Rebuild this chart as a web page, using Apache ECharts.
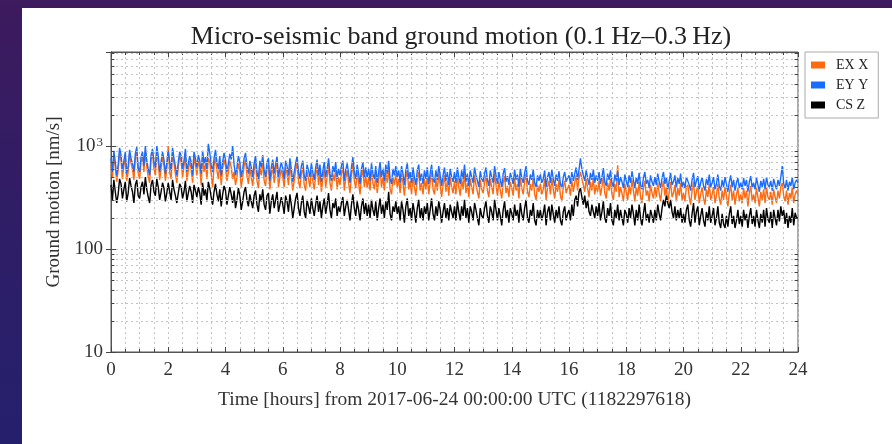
<!DOCTYPE html>
<html><head><meta charset="utf-8">
<script src="https://cdn.jsdelivr.net/npm/echarts@6/dist/echarts.min.js"></script>
<style>
html,body{margin:0;padding:0;width:892px;height:444px;overflow:hidden;
background:linear-gradient(180deg,#3e1a5e 0%,#301d66 45%,#25206c 100%);}
#c{width:892px;height:444px;}
</style></head><body><div id="c"></div>
<script>
// sampling step: 0.05 h (3 min); one row = one hour
const titleText = 'Micro-seismic band ground motion (0.1\u2009Hz\u20130.3\u2009Hz)';
const xName = 'Time [hours] from 2017-06-24 00:00:00 UTC (1182297618)';
const yName = 'Ground motion [nm/s]';
const seriesNames = ['EX X', 'EY Y', 'CS Z'];
const yMinorGrid = [20,30,40,50,60,70,80,90,200,300,400,500,600,700,800,900,2000,3000,4000,5000,6000,7000,8000];

const exX = [
660,500,800,620,450,580,860,720,480,640,780,460,560,840,680,600,470,760,880,540,
480,700,800,560,900,640,500,440,740,860,600,520,880,700,470,600,800,640,460,600,
1000,560,480,860,680,540,440,620,800,700,500,640,860,460,580,720,600,440,780,660,
520,720,620,420,800,560,680,480,760,700,540,400,640,780,580,480,700,420,600,740,
640,460,560,720,620,480,560,420,500,680,580,400,500,640,740,520,430,620,500,410,
580,700,460,390,620,520,720,460,410,600,660,380,520,640,440,560,700,400,500,600,
500,400,620,540,420,660,500,370,460,580,700,460,390,540,620,420,370,560,480,400,
580,460,380,520,640,420,560,360,480,600,400,500,660,440,370,540,460,600,380,500,
420,540,620,370,480,580,440,350,520,680,460,390,560,440,340,500,600,400,520,390,
500,370,580,440,380,540,350,460,600,400,500,370,560,440,620,380,340,500,420,540,
400,480,350,540,440,330,480,580,380,460,340,520,400,330,480,560,370,440,340,480,
380,520,340,440,560,380,340,480,370,540,420,320,420,520,360,460,330,500,400,350,
460,340,520,400,330,480,380,560,350,440,320,480,400,340,520,420,360,310,470,380,
350,440,520,370,320,480,400,340,540,420,330,460,370,310,440,510,350,410,320,450,
390,330,490,370,430,310,500,390,340,450,540,360,320,430,370,490,340,300,420,360,
430,340,380,480,300,400,460,340,490,380,310,430,360,470,330,290,400,460,350,390,
420,330,460,360,440,520,370,490,560,480,420,360,480,390,320,450,370,490,340,420,
360,460,330,400,510,350,310,440,370,480,340,300,430,360,650,320,400,350,290,430,
360,300,420,340,470,370,290,400,330,450,320,280,390,460,330,370,290,420,350,310,
400,320,440,350,290,390,460,330,400,280,360,450,320,350,420,290,390,330,440,300,
350,290,400,420,320,270,370,450,300,360,410,280,340,400,310,270,380,320,430,300,
340,400,280,330,430,310,270,370,300,400,330,260,350,420,300,370,270,340,390,290,
340,280,390,310,370,260,350,410,290,340,280,390,320,260,360,300,380,280,400,320,
300,360,270,380,320,280,370,310,400,440,330,290,370,270,350,310,400,280,340,370,
340];

const eyY = [
760,560,900,700,520,650,960,820,580,720,880,540,640,920,760,680,560,840,980,620,
560,780,880,640,1000,720,600,520,820,940,700,620,1000,800,560,700,880,740,540,680,
900,700,580,960,760,640,520,700,880,800,600,720,940,560,680,800,700,520,880,760,
620,820,720,540,900,680,780,600,1050,860,660,560,760,920,700,600,800,520,700,860,
740,560,680,840,740,1000,660,520,620,800,700,500,600,760,860,640,540,720,620,500,
680,800,560,480,720,620,820,580,500,700,760,460,620,740,540,660,800,500,600,700,
600,480,720,640,520,760,600,450,560,680,800,560,480,640,720,520,460,660,580,500,
680,560,470,620,740,520,660,450,580,700,500,600,760,540,460,640,560,700,480,600,
520,640,720,460,580,680,540,440,620,780,560,480,660,540,430,600,700,500,620,490,
600,460,680,540,480,640,440,560,700,500,600,460,660,540,720,480,430,600,520,640,
500,580,440,640,540,420,580,680,480,560,440,620,500,420,580,660,460,540,430,580,
480,620,430,540,660,480,440,580,470,640,520,410,520,620,460,560,420,600,500,450,
560,440,620,500,430,580,480,660,450,540,410,580,500,440,620,520,460,400,570,480,
450,540,620,470,410,580,500,440,640,520,430,560,470,400,540,610,450,510,420,550,
490,430,590,470,530,400,600,490,440,550,640,460,420,530,470,590,440,400,520,460,
530,440,480,580,400,500,560,440,590,480,410,530,460,570,430,390,500,560,450,490,
520,430,560,460,540,620,470,590,760,600,520,460,580,490,420,550,470,590,440,520,
460,560,430,500,610,450,410,540,470,580,440,400,530,460,570,420,500,450,390,530,
460,400,520,440,570,470,390,500,430,550,420,380,490,560,430,470,390,520,450,410,
500,420,540,450,390,490,560,430,500,380,460,550,420,450,520,390,490,430,540,400,
450,390,500,520,420,370,470,550,400,460,510,380,440,500,410,370,480,420,530,400,
440,500,380,430,530,410,370,470,400,500,430,360,450,520,400,470,370,440,490,390,
440,380,490,410,470,360,450,510,390,440,380,490,420,360,460,400,480,380,500,420,
400,460,370,480,420,380,470,410,500,640,430,390,470,370,450,410,500,380,440,470,
440];

const csZ = [
420,300,470,360,280,340,480,430,310,380,450,290,350,490,410,360,280,420,470,330,
310,400,450,340,500,380,320,280,420,470,360,330,480,400,300,360,440,390,290,350,
440,360,300,470,380,330,280,350,430,400,310,360,460,290,350,410,360,280,420,370,
320,400,350,270,440,330,380,290,450,390,320,270,360,430,340,290,380,260,340,410,
370,270,330,400,340,280,370,250,300,390,330,240,290,360,400,300,260,340,290,250,
330,370,270,230,340,290,380,270,240,330,350,220,290,340,250,300,360,230,270,320,
270,220,330,290,230,340,270,200,250,310,350,250,210,280,330,230,200,300,260,220,
310,250,210,270,330,230,290,200,260,310,220,270,350,240,200,280,250,310,210,260,
230,280,320,210,260,300,240,190,270,340,250,210,290,240,190,260,310,220,280,210,
270,200,300,240,210,290,190,250,310,220,270,200,290,240,360,220,190,260,230,290,
220,260,190,290,240,180,260,310,210,250,190,280,230,180,250,300,200,250,190,260,
220,280,190,240,310,220,190,260,210,290,240,180,230,280,200,250,190,270,230,200,
260,190,290,230,190,260,210,300,200,250,180,260,230,190,280,240,200,170,250,210,
200,250,290,210,180,260,230,190,300,240,190,250,210,170,240,290,200,240,180,250,
220,190,270,210,240,180,280,220,190,250,300,200,180,240,210,280,190,170,240,200,
240,190,220,270,170,230,260,190,270,220,180,240,200,260,190,170,230,260,190,220,
240,190,270,210,300,330,260,360,390,320,270,330,250,300,230,210,270,230,200,260,
210,280,190,230,290,200,180,250,210,280,190,170,240,200,270,190,240,200,170,240,
220,180,250,200,270,220,170,240,190,270,200,170,220,280,190,220,180,240,210,180,
240,190,270,220,190,250,300,260,330,280,250,300,230,200,260,190,240,200,250,180,
220,180,240,270,190,165,220,280,180,230,260,170,210,250,190,165,230,190,260,180,
210,250,170,200,260,180,160,220,175,160,210,165,220,260,175,210,160,190,240,175,
210,165,240,190,220,160,210,250,175,210,165,240,190,160,220,180,240,165,250,195,
180,230,160,240,200,170,240,185,260,210,240,175,225,160,210,180,250,170,225,200,
200];

const STEP_H = 0.05;
const X_MIN = 0, X_MAX = 24, MINOR_TICK_H = 0.12;
const toPairs = arr => arr.map((v, i) => [i * STEP_H, v]);
const FONT = '"Liberation Serif", "DejaVu Serif", serif';
const gridLine = {show: true, lineStyle: {color: '#c4c4c4', type: [2, 3], width: 1}};
const Y_MIN = 10, Y_MAX = 8200;

// short minor-tick segments on the left and right frame at the log minor values
const minorTickLines = [];
yMinorGrid.forEach(v => {
  minorTickLines.push([{coord: [X_MIN, v]}, {coord: [X_MIN + MINOR_TICK_H, v]}]);
  minorTickLines.push([{coord: [X_MAX - MINOR_TICK_H, v]}, {coord: [X_MAX, v]}]);
});

const chart = echarts.init(document.getElementById('c'), null, {renderer: 'canvas'});
chart.setOption({
  animation: false,
  backgroundColor: 'transparent',
  graphic: [{type: 'rect', z: -10, shape: {x: 22, y: 8, width: 870, height: 436}, style: {fill: '#ffffff'}}],
  title: {text: titleText, left: 456, textAlign: 'center', top: 19,
    textStyle: {fontFamily: FONT, fontSize: 26, fontWeight: 'normal', color: '#222'}},
  legend: {
    orient: 'vertical', left: 805, top: 52, width: 75,
    padding: [6, 10, 6, 6], itemGap: 6, itemWidth: 14, itemHeight: 7, icon: 'rect',
    borderColor: '#aaa', borderWidth: 1, backgroundColor: '#fff', borderRadius: 0,
    textStyle: {fontFamily: FONT, fontSize: 14, color: '#222', padding: [0, 0, 0, 6]},
    data: seriesNames
  },
  grid: {left: 111, right: 94, top: 52, bottom: 92, show: true, borderColor: '#555', borderWidth: 1, backgroundColor: 'transparent'},
  xAxis: [{
    type: 'value', min: X_MIN, max: X_MAX, interval: 2, position: 'bottom',
    name: xName, nameLocation: 'middle', nameGap: 38,
    nameTextStyle: {fontFamily: FONT, fontSize: 19.5, color: '#333'},
    axisLine: {show: true, lineStyle: {color: '#555'}},
    axisTick: {show: true, inside: true, length: 5, lineStyle: {color: '#444'}},
    minorTick: {show: true, splitNumber: 4, length: 3, lineStyle: {color: '#444'}},
    axisLabel: {fontFamily: FONT, fontSize: 19, color: '#333', margin: 9},
    splitLine: gridLine,
    minorSplitLine: gridLine
  }, {
    type: 'value', min: X_MIN, max: X_MAX, interval: 2, position: 'top',
    axisLine: {show: true, lineStyle: {color: '#555'}},
    axisTick: {show: true, inside: true, length: 5, lineStyle: {color: '#444'}},
    minorTick: {show: true, splitNumber: 4, length: 3, lineStyle: {color: '#444'}},
    axisLabel: {show: false}, splitLine: {show: false}
  }],
  yAxis: [{
    type: 'log', logBase: 10, min: Y_MIN, max: Y_MAX, position: 'left',
    name: yName, nameLocation: 'middle', nameGap: 40,
    nameTextStyle: {fontFamily: FONT, fontSize: 19, color: '#333'},
    axisLine: {show: true, lineStyle: {color: '#555'}},
    axisTick: {show: true, inside: true, length: 5, lineStyle: {color: '#444'}},
    axisLabel: {
      fontFamily: FONT, fontSize: 19, color: '#333', margin: 8, showMaxLabel: false,
      formatter: v => (v === 1000 ? '{b|10}{s|3}' : (v === 10 || v === 100 ? String(v) : '')),
      rich: {b: {fontFamily: FONT, fontSize: 19, color: '#333'},
             s: {fontFamily: FONT, fontSize: 13, color: '#333', verticalAlign: 'top', padding: [0, 0, 8, 1]}}
    },
    splitLine: gridLine
  }, {
    type: 'log', logBase: 10, min: Y_MIN, max: Y_MAX, position: 'right',
    axisLine: {show: true, lineStyle: {color: '#555'}},
    axisTick: {show: true, inside: true, length: 5, lineStyle: {color: '#444'}},
    axisLabel: {show: false}, splitLine: {show: false}
  }],
  series: [
    {name: seriesNames[0], type: 'line', data: toPairs(exX), showSymbol: false, color: '#ff6a10',
     lineStyle: {width: 1.4}, z: 2,
     markLine: {silent: true, symbol: 'none', label: {show: false},
       lineStyle: {color: '#c4c4c4', type: [2, 3], width: 1}, animation: false,
       data: yMinorGrid.map(v => ({yAxis: v}))}},
    {name: seriesNames[1], type: 'line', data: toPairs(eyY), showSymbol: false, color: '#1a6cff',
     lineStyle: {width: 1.4}, z: 3},
    {name: seriesNames[2], type: 'line', data: toPairs(csZ), showSymbol: false, color: '#000000',
     lineStyle: {width: 1.4}, z: 4,
     markLine: {silent: true, symbol: 'none', label: {show: false},
       lineStyle: {color: '#444', type: 'solid', width: 1}, animation: false,
       data: minorTickLines}}
  ]
});
</script></body></html>
